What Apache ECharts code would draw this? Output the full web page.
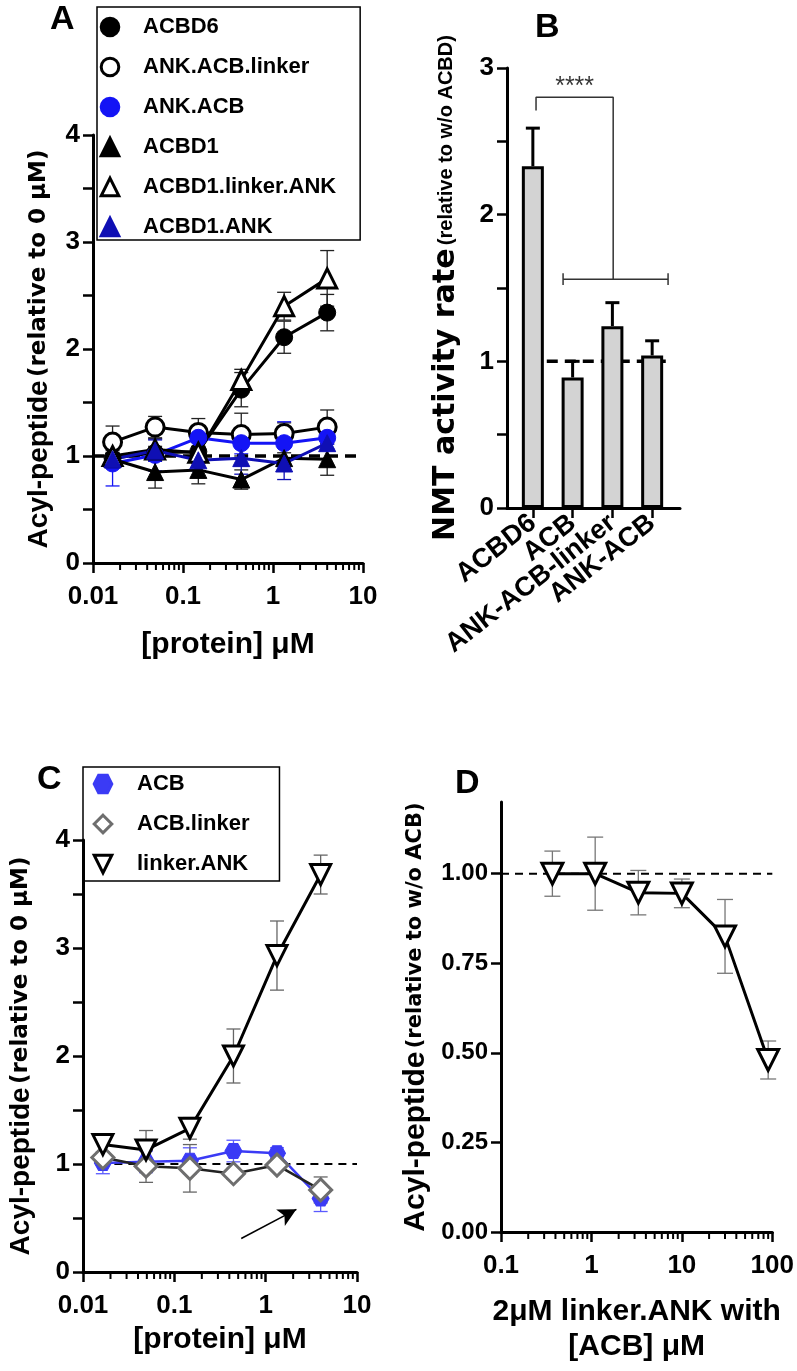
<!DOCTYPE html>
<html><head><meta charset="utf-8">
<script src="https://cdn.jsdelivr.net/npm/echarts@6/dist/echarts.min.js"></script>
<style>html,body{margin:0;padding:0;background:#fff}#c{width:797px;height:1371px}</style>
</head><body><div id="c"></div>
<script>
// ---------- Panel A ----------
const concA = [0.0165, 0.049, 0.148, 0.444, 1.33, 4.0];
const aACBD6 = [0.98, 1.03, 1.04, 1.62, 2.11, 2.34];
const aACBD6Err = [0.05, 0.06, 0.05, 0.16, 0.15, 0.17];
const aAnkAcbLinker = [1.13, 1.27, 1.22, 1.20, 1.21, 1.27];
const aAnkAcbLinkerErr = [0.15, 0.10, 0.13, 0.20, 0.10, 0.16];
const aAnkAcb = [0.93, 1.01, 1.17, 1.12, 1.12, 1.17];
const aAnkAcbErr = [0.21, 0.15, 0.10, 0.10, 0.20, 0.06];
const aACBD1 = [0.97, 0.85, 0.87, 0.78, 0.98, 0.97];
const aACBD1Err = [0.05, 0.15, 0.13, 0.09, 0.05, 0.15];
const aACBD1LinkerAnk = [1.00, 1.06, 1.03, 1.71, 2.40, 2.66];
const aACBD1LinkerAnkErr = [0.05, 0.10, 0.10, 0.10, 0.13, 0.26];
const aACBD1Ank = [0.97, 1.05, 0.96, 0.98, 0.93, 1.12];
const aACBD1AnkErr = [0.05, 0.10, 0.10, 0.15, 0.15, 0.05];

// ---------- Panel B ----------
const catsB = ['ACBD6', 'ACB', 'ANK-ACB-linker', 'ANK-ACB'];
const posB = [0, 1, 2, 3];
const valsB = [2.33, 0.89, 1.24, 1.04];
const errB = [0.26, 0.11, 0.16, 0.10];
const bracketTop = [[0.08, 2.71], [0.08, 2.80], [2.02, 2.80], [2.02, 1.56]];
const bracketLow = [[0.76, 1.56], [3.40, 1.56]];
const capLowL = [[0.76, 1.52], [0.76, 1.60]];
const capLowR = [[3.40, 1.52], [3.40, 1.60]];
const starsPos = [[1.05, 2.87]];

// ---------- Panel C ----------
const concC = [0.0165, 0.049, 0.148, 0.444, 1.33, 4.0];
const cACB = [1.01, 1.02, 1.03, 1.12, 1.10, 0.68];
const cACBErr = [0.10, 0.10, 0.12, 0.10, 0.05, 0.12];
const cACBLinker = [1.06, 0.98, 0.96, 0.91, 0.99, 0.76];
const cACBLinkerErr = [0.05, 0.15, 0.22, 0.05, 0.05, 0.12];
const cLinkerAnk = [1.18, 1.13, 1.33, 2.00, 2.93, 3.68];
const cLinkerAnkErr = [0.10, 0.18, 0.10, 0.25, 0.32, 0.18];
const arrowC = [[0.54, 0.31], [2.17, 0.58]];

// ---------- Panel D ----------
const concD = [0.37, 1.1, 3.3, 10, 30, 90];
const dVals = [1.00, 1.00, 0.947, 0.945, 0.825, 0.48];
const dErr = [0.063, 0.102, 0.062, 0.04, 0.103, 0.053];
const ticksDY = [0, 0.25, 0.5, 0.75, 1.0];

const F = '"Liberation Sans", Arial, Helvetica, sans-serif';
const FW = '"DejaVu Sans", Verdana, sans-serif';
const BLUE = '#1414f5';
const NAVY = '#0f0fb4';

function minorVals(lo, hi) {
  const out = [];
  for (let d = lo; d < hi * 0.999; d *= 10) for (let k = 2; k <= 9; k++) out.push(+(k * d).toPrecision(6));
  return out;
}
function fmtNum(v) { return String(parseFloat(Number(v).toPrecision(6))); }
function pairs(xs, ys) { return xs.map((x, i) => [x, ys[i]]); }
function triples(xs, ys, es) { return xs.map((x, i) => [x, ys[i], es[i]]); }

function errRender(color, lw, cap, upOnly) {
  return function (params, api) {
    const x = api.value(0), y = api.value(1), e = api.value(2);
    const t = api.coord([x, y + e]);
    const b = api.coord([x, upOnly ? y : y - e]);
    const st = { stroke: color, lineWidth: lw, fill: null };
    const ch = [
      { type: 'line', shape: { x1: t[0], y1: t[1], x2: b[0], y2: b[1] }, style: st },
      { type: 'line', shape: { x1: t[0] - cap / 2, y1: t[1], x2: t[0] + cap / 2, y2: t[1] }, style: st }
    ];
    if (!upOnly) ch.push({ type: 'line', shape: { x1: b[0] - cap / 2, y1: b[1], x2: b[0] + cap / 2, y2: b[1] }, style: st });
    return { type: 'group', children: ch };
  };
}
function errSeries(xi, yi, data, color, lw, cap, upOnly) {
  return { type: 'custom', xAxisIndex: xi, yAxisIndex: yi, data: data, z: 1, silent: true,
    renderItem: errRender(color, lw, cap, upOnly), encode: { x: 0, y: 1 } };
}
function lineSeries(name, xi, yi, data, o) {
  return Object.assign({ name: name, type: 'line', xAxisIndex: xi, yAxisIndex: yi, data: data, z: 3,
    symbolKeepAspect: true }, o);
}

const axisLineStyle = { show: true, onZero: false, lineStyle: { color: '#000', width: 3 } };
const tickStyle = { show: true, inside: false, length: 10, lineStyle: { color: '#000', width: 2.5 } };
const labelStyle = { color: '#000', fontFamily: F, fontWeight: 'bold', fontSize: 26 };

function logX(gi, lo, hi, name, nameGap, labelMargin) {
  return {
    type: 'log', gridIndex: gi, min: lo, max: hi, logBase: 10, position: 'bottom',
    axisLine: axisLineStyle, axisTick: tickStyle, splitLine: { show: false },
    axisLabel: Object.assign({}, labelStyle, { margin: labelMargin, formatter: fmtNum }),
    name: name, nameLocation: 'middle', nameGap: nameGap,
    nameTextStyle: { color: '#000', fontFamily: F, fontWeight: 'bold', fontSize: 30, lineHeight: 35 }
  };
}
function richTitle(aSize, bSize, aFont, bFont) {
  return { rich: {
    a: { fontFamily: aFont || F, fontWeight: 'bold', fontSize: aSize, color: '#000' },
    b: { fontFamily: bFont || F, fontWeight: 'bold', fontSize: bSize, color: '#000' } } };
}
function yAx(gi, min, max, interval, name, nameGap, extra) {
  return Object.assign({
    type: 'value', gridIndex: gi, min: min, max: max, interval: interval,
    axisLine: axisLineStyle, axisTick: tickStyle, splitLine: { show: false },
    axisLabel: Object.assign({}, labelStyle, { margin: 13, formatter: v => (Math.abs(v - Math.round(v)) < 1e-9 ? String(Math.round(v)) : '') }),
    name: name, nameLocation: 'middle', nameGap: nameGap,
    nameTextStyle: richTitle(28, 23, F, FW)
  }, extra || {});
}

const xAxes = [
  logX(0, 0.01, 10, '[protein] \u03bcM', 64, 21),                       // 0: A
  {                                                                       // 1: B (value, carries bars)
    type: 'value', gridIndex: 1, min: -0.65, max: 3.7, position: 'bottom',
    axisLine: axisLineStyle, splitLine: { show: false }, axisTick: { show: false }, axisLabel: { show: false }
  },
  logX(2, 0.01, 10, '[protein] \u03bcM', 50, 21),                       // 2: C
  logX(3, 0.1, 100, '2\u03bcM linker.ANK with\n[ACB] \u03bcM', 62, 21), // 3: D
  {                                                                       // 4: B category labels
    type: 'category', gridIndex: 4, data: catsB, boundaryGap: true, position: 'bottom',
    axisLine: { show: false }, splitLine: { show: false },
    axisTick: Object.assign({}, tickStyle, { alignWithLabel: true, interval: 0 }),
    axisLabel: Object.assign({}, labelStyle, { fontSize: 27, rotate: 38, margin: 12, interval: 0 })
  }
];

const yAxes = [
  yAx(0, 0, 4, 0.5, '{a|Acyl-peptide} {b|(relative to 0 \u03bcM)}', 40),
  yAx(1, 0, 3, 0.5, '{a|NMT activity rate} {b|(relative to w/o ACBD)}', 46,
    { nameTextStyle: richTitle(30, 20, FW, F) }),
  yAx(2, 0, 4, 0.5, '{a|Acyl-peptide} {b|(relative to 0 \u03bcM)}', 48),
  yAx(3, 0, 1.2, 0.25, '{a|Acyl-peptide} {b|(relative to w/o ACB)}', 70, {
    nameTextStyle: richTitle(30, 21, F, FW),
    axisTick: Object.assign({}, tickStyle, { customValues: ticksDY }),
    axisLabel: Object.assign({}, labelStyle, { fontSize: 24, margin: 13, customValues: ticksDY, formatter: v => Number(v).toFixed(2) })
  }),
  { type: 'value', gridIndex: 4, min: 0, max: 3, show: false }
];

const openBlack = { color: '#fff', borderColor: '#000', borderWidth: 3 };
const HEX = 'path://M-10,0 L-5,-8.66 L5,-8.66 L10,0 L5,8.66 L-5,8.66 Z';

const series = [
  // reference dashed lines
  lineSeries('refA', 0, 0, [[0.01, 1], [10, 1]], { symbol: 'none', z: 2, silent: true,
    lineStyle: { color: '#000', width: 3.5, type: [11, 7] } }),
  lineSeries('refB', 1, 1, [[0.35, 1], [3.5, 1]], { symbol: 'none', z: 1, silent: true,
    lineStyle: { color: '#000', width: 3.5, type: [11, 7] } }),
  lineSeries('refC', 2, 2, [[0.0155, 1], [10, 1]], { symbol: 'none', z: 2, silent: true,
    lineStyle: { color: '#000', width: 2, type: [8, 6] } }),
  lineSeries('refD', 3, 3, [[0.1, 1], [100, 1]], { symbol: 'none', z: 2, silent: true,
    lineStyle: { color: '#000', width: 2, type: [8, 6] } }),

  // Panel A error bars
  errSeries(0, 0, triples(concA, aACBD6, aACBD6Err), '#222', 1.3, 14),
  errSeries(0, 0, triples(concA, aAnkAcbLinker, aAnkAcbLinkerErr), '#222', 1.3, 14),
  errSeries(0, 0, triples(concA, aAnkAcb, aAnkAcbErr), BLUE, 1.3, 14),
  errSeries(0, 0, triples(concA, aACBD1, aACBD1Err), '#222', 1.3, 14),
  errSeries(0, 0, triples(concA, aACBD1LinkerAnk, aACBD1LinkerAnkErr), '#222', 1.3, 14),
  errSeries(0, 0, triples(concA, aACBD1Ank, aACBD1AnkErr), NAVY, 1.3, 14),
  // Panel A lines
  lineSeries('ACBD6', 0, 0, pairs(concA, aACBD6), { symbol: 'circle', symbolSize: 17,
    itemStyle: { color: '#000', borderColor: '#000', borderWidth: 1 }, lineStyle: { color: '#000', width: 3 } }),
  lineSeries('ANK.ACB.linker', 0, 0, pairs(concA, aAnkAcbLinker), { symbol: 'circle', symbolSize: 18,
    itemStyle: openBlack, lineStyle: { color: '#000', width: 3 } }),
  lineSeries('ANK.ACB', 0, 0, pairs(concA, aAnkAcb), { symbol: 'circle', symbolSize: 17,
    itemStyle: { color: BLUE, borderColor: BLUE, borderWidth: 1 }, lineStyle: { color: BLUE, width: 3 } }),
  lineSeries('ACBD1', 0, 0, pairs(concA, aACBD1), { symbol: 'triangle', symbolSize: 17,
    itemStyle: { color: '#000', borderColor: '#000', borderWidth: 1 }, lineStyle: { color: '#000', width: 3 } }),
  lineSeries('ACBD1.linker.ANK', 0, 0, pairs(concA, aACBD1LinkerAnk), { symbol: 'triangle', symbolSize: 19,
    itemStyle: openBlack, lineStyle: { color: '#000', width: 3 } }),
  lineSeries('ACBD1.ANK', 0, 0, pairs(concA, aACBD1Ank), { symbol: 'triangle', symbolSize: 17,
    itemStyle: { color: NAVY, borderColor: NAVY, borderWidth: 1 }, lineStyle: { color: NAVY, width: 3 } }),

  // Panel B
  { name: 'NMT', type: 'bar', xAxisIndex: 1, yAxisIndex: 1, data: pairs(posB, valsB), barWidth: 22, z: 2,
    itemStyle: { color: '#d3d3d3', borderColor: '#000', borderWidth: 3 } },
  errSeries(1, 1, triples(posB, valsB, errB), '#000', 3, 14, true),
  lineSeries('br1', 1, 1, bracketTop, { symbol: 'none', silent: true, lineStyle: { color: '#333', width: 1.5 } }),
  lineSeries('br2', 1, 1, bracketLow, { symbol: 'none', silent: true, lineStyle: { color: '#333', width: 1.5 } }),
  lineSeries('br3', 1, 1, capLowL, { symbol: 'none', silent: true, lineStyle: { color: '#333', width: 1.5 } }),
  lineSeries('br4', 1, 1, capLowR, { symbol: 'none', silent: true, lineStyle: { color: '#333', width: 1.5 } }),
  { type: 'scatter', xAxisIndex: 1, yAxisIndex: 1, data: starsPos, symbol: 'circle', symbolSize: 2, silent: true, z: 5,
    itemStyle: { color: 'rgba(0,0,0,0)' },
    label: { show: true, position: 'inside', formatter: '****', color: '#000', fontFamily: F, fontSize: 25 } },

  // Panel C error bars
  errSeries(2, 2, triples(concC, cACB, cACBErr), '#5a5aff', 1.3, 14),
  errSeries(2, 2, triples(concC, cACBLinker, cACBLinkerErr), '#666', 1.3, 14),
  errSeries(2, 2, triples(concC, cLinkerAnk, cLinkerAnkErr), '#666', 1.3, 14),
  lineSeries('ACB', 2, 2, pairs(concC, cACB), { symbol: HEX, symbolSize: [17, 15], symbolKeepAspect: false,
    itemStyle: { color: '#3b3bf5', borderColor: '#3b3bf5', borderWidth: 1 }, lineStyle: { color: '#3b3bf5', width: 2.5 } }),
  lineSeries('ACB.linker', 2, 2, pairs(concC, cACBLinker), { symbol: 'diamond', symbolSize: 22,
    itemStyle: { color: '#fff', borderColor: '#6e6e6e', borderWidth: 3 }, lineStyle: { color: '#222', width: 2.5 } }),
  lineSeries('linker.ANK', 2, 2, pairs(concC, cLinkerAnk), { symbol: 'triangle', symbolRotate: 180, symbolSize: 20,
    itemStyle: openBlack, lineStyle: { color: '#000', width: 3 },
    markLine: { silent: true, symbol: ['none', 'arrow'], symbolSize: [14, 18],
      lineStyle: { color: '#000', width: 1.5, type: 'solid' }, label: { show: false },
      data: [[{ coord: arrowC[0] }, { coord: arrowC[1] }]] } }),

  // Panel D
  errSeries(3, 3, triples(concD, dVals, dErr), '#777', 1.3, 16),
  lineSeries('D', 3, 3, pairs(concD, dVals), { symbol: 'triangle', symbolRotate: 180, symbolSize: 21,
    itemStyle: openBlack, lineStyle: { color: '#000', width: 3 } })
];

const legendText = { color: '#000', fontFamily: F, fontWeight: 'bold', fontSize: 22 };
function legendCfg(names, left, top, pad, textPad) {
  return {
    data: names, orient: 'vertical', left: left, top: top, itemWidth: 26, itemHeight: 22, itemGap: 18,
    padding: pad, borderColor: '#000', borderWidth: 1.5, selectedMode: false,
    lineStyle: { width: 0, opacity: 0 }, itemStyle: { borderWidth: 3 },
    formatter: n => '{t|' + n + '}',
    textStyle: Object.assign({}, legendText, { rich: { t: Object.assign({ padding: [0, 0, 0, textPad] }, legendText) } })
  };
}

const panelLabel = (t, x, y) => ({ type: 'text', left: x, top: y,
  style: { text: t, fill: '#000', font: 'bold 34px ' + F } });
const labels = [
  panelLabel('A', 50, 3),
  panelLabel('B', 535, 11),
  panelLabel('C', 37, 763),
  panelLabel('D', 455, 767)
];

const option = {
  animation: false,
  backgroundColor: '#fff',
  grid: [
    { left: 93, top: 135, width: 270, height: 428 },
    { left: 507, top: 68, width: 173, height: 440 },
    { left: 83, top: 840, width: 274, height: 432 },
    { left: 501, top: 802, width: 274, height: 430 },
    { left: 513.2, top: 68, width: 158.7, height: 440 }
  ],
  xAxis: xAxes,
  yAxis: yAxes,
  legend: [
    legendCfg(['ACBD6', 'ANK.ACB.linker', 'ANK.ACB', 'ACBD1', 'ACBD1.linker.ANK', 'ACBD1.ANK'], 97, 7, [9, 24, 2, 0], 15),
    legendCfg(['ACB', 'ACB.linker', 'linker.ANK'], 83, 767, [6, 30, 6, 7], 16)
  ],
  graphic: labels,
  series: series
};

const chart = echarts.init(document.getElementById('c'), null, { renderer: 'canvas' });
chart.setOption(option);

// Minor ticks of the log axes, positioned through each axis' own scale.
const minorSpecs = [[0, 0, 0.01, 10], [2, 2, 0.01, 10], [3, 3, 0.1, 100]];
const tickEls = [];
minorSpecs.forEach(([xi, yi, lo, hi]) => {
  const y0 = chart.convertToPixel({ yAxisIndex: yi }, 0);
  minorVals(lo, hi).forEach(v => {
    const x = chart.convertToPixel({ xAxisIndex: xi }, v);
    if (isFinite(x) && isFinite(y0)) {
      tickEls.push({ type: 'line', silent: true, z: 10,
        shape: { x1: x, y1: y0, x2: x, y2: y0 + 7 }, style: { stroke: '#000', lineWidth: 2 } });
    }
  });
});
chart.setOption({ graphic: labels.concat(tickEls) });
</script>
</body></html>
